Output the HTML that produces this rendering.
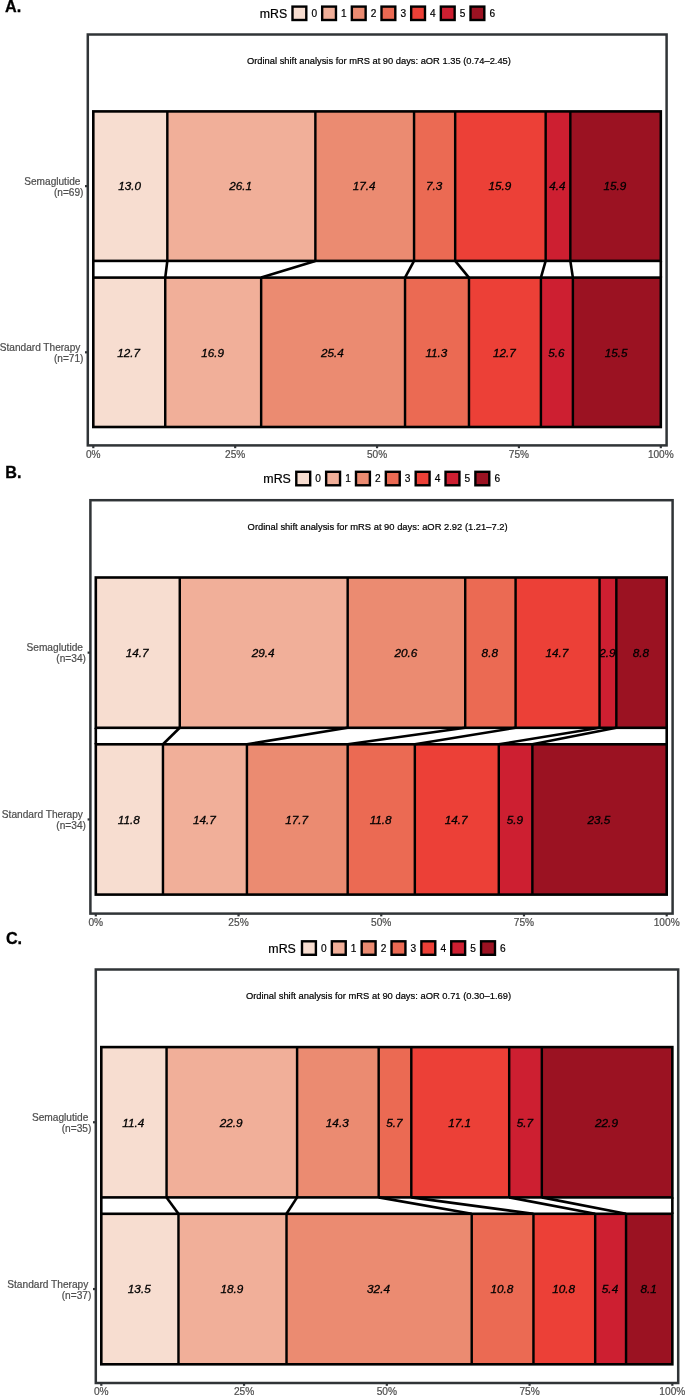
<!DOCTYPE html>
<html lang="en">
<head>
<meta charset="utf-8">
<title>mRS ordinal shift analysis</title>
<style>
html,body{margin:0;padding:0;background:#fff;}
body{width:685px;height:1395px;overflow:hidden;font-family:"Liberation Sans", sans-serif;}
svg{display:block;will-change:transform;}
svg text{font-family:"Liberation Sans", sans-serif;}
</style>
</head>
<body>
<svg width="685" height="1395" viewBox="0 0 685 1395">
<rect x="0" y="0" width="685" height="1395" fill="#ffffff"/>
<g>
<text x="5" y="11.9" font-size="16.2" font-weight="bold" fill="#000" stroke="#000" stroke-width="0.3">A.</text>
<text x="259.7" y="18" font-size="12.35" fill="#000" stroke="#000" stroke-width="0.2">mRS</text>
<rect x="292.5" y="6.6" width="13.8" height="13.4" fill="#F7DDD0" stroke="#000" stroke-width="2.4"/>
<text x="311.4" y="16.8" font-size="10.1" fill="#000" stroke="#000" stroke-width="0.2">0</text>
<rect x="322.17" y="6.6" width="13.8" height="13.4" fill="#F1AF99" stroke="#000" stroke-width="2.4"/>
<text x="341.07" y="16.8" font-size="10.1" fill="#000" stroke="#000" stroke-width="0.2">1</text>
<rect x="351.84" y="6.6" width="13.8" height="13.4" fill="#EB8B71" stroke="#000" stroke-width="2.4"/>
<text x="370.74" y="16.8" font-size="10.1" fill="#000" stroke="#000" stroke-width="0.2">2</text>
<rect x="381.51" y="6.6" width="13.8" height="13.4" fill="#EB6A53" stroke="#000" stroke-width="2.4"/>
<text x="400.41" y="16.8" font-size="10.1" fill="#000" stroke="#000" stroke-width="0.2">3</text>
<rect x="411.18" y="6.6" width="13.8" height="13.4" fill="#EC4037" stroke="#000" stroke-width="2.4"/>
<text x="430.08" y="16.8" font-size="10.1" fill="#000" stroke="#000" stroke-width="0.2">4</text>
<rect x="440.85" y="6.6" width="13.8" height="13.4" fill="#CD1F31" stroke="#000" stroke-width="2.4"/>
<text x="459.75" y="16.8" font-size="10.1" fill="#000" stroke="#000" stroke-width="0.2">5</text>
<rect x="470.52" y="6.6" width="13.8" height="13.4" fill="#9B1222" stroke="#000" stroke-width="2.4"/>
<text x="489.42" y="16.8" font-size="10.1" fill="#000" stroke="#000" stroke-width="0.2">6</text>
<text x="247" y="63.8" font-size="9.34" fill="#000" stroke="#000" stroke-width="0.2">Ordinal shift analysis for mRS at 90 days: aOR 1.35 (0.74–2.45)</text>
<rect x="93.3" y="111.4" width="74.02" height="149.5" fill="#F7DDD0"/>
<rect x="167.32" y="111.4" width="148.04" height="149.5" fill="#F1AF99"/>
<rect x="315.37" y="111.4" width="98.7" height="149.5" fill="#EB8B71"/>
<rect x="414.06" y="111.4" width="41.12" height="149.5" fill="#EB6A53"/>
<rect x="455.18" y="111.4" width="90.47" height="149.5" fill="#EC4037"/>
<rect x="545.66" y="111.4" width="24.67" height="149.5" fill="#CD1F31"/>
<rect x="570.33" y="111.4" width="90.47" height="149.5" fill="#9B1222"/>
<line x1="167.32" y1="111.4" x2="167.32" y2="260.9" stroke="#000" stroke-width="2.45"/>
<line x1="315.37" y1="111.4" x2="315.37" y2="260.9" stroke="#000" stroke-width="2.45"/>
<line x1="414.06" y1="111.4" x2="414.06" y2="260.9" stroke="#000" stroke-width="2.45"/>
<line x1="455.18" y1="111.4" x2="455.18" y2="260.9" stroke="#000" stroke-width="2.45"/>
<line x1="545.66" y1="111.4" x2="545.66" y2="260.9" stroke="#000" stroke-width="2.45"/>
<line x1="570.33" y1="111.4" x2="570.33" y2="260.9" stroke="#000" stroke-width="2.45"/>
<rect x="93.3" y="111.4" width="567.5" height="149.5" fill="none" stroke="#000" stroke-width="2.6"/>
<text x="129.71" y="190.45" font-size="11.7" font-style="italic" text-anchor="middle" fill="#000" stroke="#000" stroke-width="0.3">13.0</text>
<text x="240.74" y="190.45" font-size="11.7" font-style="italic" text-anchor="middle" fill="#000" stroke="#000" stroke-width="0.3">26.1</text>
<text x="364.11" y="190.45" font-size="11.7" font-style="italic" text-anchor="middle" fill="#000" stroke="#000" stroke-width="0.3">17.4</text>
<text x="434.02" y="190.45" font-size="11.7" font-style="italic" text-anchor="middle" fill="#000" stroke="#000" stroke-width="0.3">7.3</text>
<text x="499.82" y="190.45" font-size="11.7" font-style="italic" text-anchor="middle" fill="#000" stroke="#000" stroke-width="0.3">15.9</text>
<text x="557.39" y="190.45" font-size="11.7" font-style="italic" text-anchor="middle" fill="#000" stroke="#000" stroke-width="0.3">4.4</text>
<text x="614.96" y="190.45" font-size="11.7" font-style="italic" text-anchor="middle" fill="#000" stroke="#000" stroke-width="0.3">15.9</text>
<rect x="93.3" y="277.6" width="71.94" height="149.4" fill="#F7DDD0"/>
<rect x="165.24" y="277.6" width="95.92" height="149.4" fill="#F1AF99"/>
<rect x="261.15" y="277.6" width="143.87" height="149.4" fill="#EB8B71"/>
<rect x="405.03" y="277.6" width="63.94" height="149.4" fill="#EB6A53"/>
<rect x="468.97" y="277.6" width="71.94" height="149.4" fill="#EC4037"/>
<rect x="540.91" y="277.6" width="31.97" height="149.4" fill="#CD1F31"/>
<rect x="572.88" y="277.6" width="87.92" height="149.4" fill="#9B1222"/>
<line x1="165.24" y1="277.6" x2="165.24" y2="427" stroke="#000" stroke-width="2.45"/>
<line x1="261.15" y1="277.6" x2="261.15" y2="427" stroke="#000" stroke-width="2.45"/>
<line x1="405.03" y1="277.6" x2="405.03" y2="427" stroke="#000" stroke-width="2.45"/>
<line x1="468.97" y1="277.6" x2="468.97" y2="427" stroke="#000" stroke-width="2.45"/>
<line x1="540.91" y1="277.6" x2="540.91" y2="427" stroke="#000" stroke-width="2.45"/>
<line x1="572.88" y1="277.6" x2="572.88" y2="427" stroke="#000" stroke-width="2.45"/>
<rect x="93.3" y="277.6" width="567.5" height="149.4" fill="none" stroke="#000" stroke-width="2.6"/>
<text x="128.67" y="356.6" font-size="11.7" font-style="italic" text-anchor="middle" fill="#000" stroke="#000" stroke-width="0.3">12.7</text>
<text x="212.59" y="356.6" font-size="11.7" font-style="italic" text-anchor="middle" fill="#000" stroke="#000" stroke-width="0.3">16.9</text>
<text x="332.49" y="356.6" font-size="11.7" font-style="italic" text-anchor="middle" fill="#000" stroke="#000" stroke-width="0.3">25.4</text>
<text x="436.4" y="356.6" font-size="11.7" font-style="italic" text-anchor="middle" fill="#000" stroke="#000" stroke-width="0.3">11.3</text>
<text x="504.34" y="356.6" font-size="11.7" font-style="italic" text-anchor="middle" fill="#000" stroke="#000" stroke-width="0.3">12.7</text>
<text x="556.29" y="356.6" font-size="11.7" font-style="italic" text-anchor="middle" fill="#000" stroke="#000" stroke-width="0.3">5.6</text>
<text x="616.24" y="356.6" font-size="11.7" font-style="italic" text-anchor="middle" fill="#000" stroke="#000" stroke-width="0.3">15.5</text>
<line x1="93.3" y1="260.9" x2="93.3" y2="277.6" stroke="#000" stroke-width="2.6"/>
<line x1="167.32" y1="260.9" x2="165.24" y2="277.6" stroke="#000" stroke-width="2.6"/>
<line x1="315.37" y1="260.9" x2="261.15" y2="277.6" stroke="#000" stroke-width="2.6"/>
<line x1="414.06" y1="260.9" x2="405.03" y2="277.6" stroke="#000" stroke-width="2.6"/>
<line x1="455.18" y1="260.9" x2="468.97" y2="277.6" stroke="#000" stroke-width="2.6"/>
<line x1="545.66" y1="260.9" x2="540.91" y2="277.6" stroke="#000" stroke-width="2.6"/>
<line x1="570.33" y1="260.9" x2="572.88" y2="277.6" stroke="#000" stroke-width="2.6"/>
<line x1="660.8" y1="260.9" x2="660.8" y2="277.6" stroke="#000" stroke-width="2.6"/>
<rect x="87.8" y="34.5" width="578.8" height="410.9" fill="none" stroke="#303437" stroke-width="2.5"/>
<line x1="93.3" y1="445.4" x2="93.3" y2="448.2" stroke="#303437" stroke-width="2.2"/>
<text x="93.3" y="457.6" font-size="10.1" text-anchor="middle" fill="#4d4d4d" stroke="#4d4d4d" stroke-width="0.2">0%</text>
<line x1="235.18" y1="445.4" x2="235.18" y2="448.2" stroke="#303437" stroke-width="2.2"/>
<text x="235.18" y="457.6" font-size="10.1" text-anchor="middle" fill="#4d4d4d" stroke="#4d4d4d" stroke-width="0.2">25%</text>
<line x1="377.05" y1="445.4" x2="377.05" y2="448.2" stroke="#303437" stroke-width="2.2"/>
<text x="377.05" y="457.6" font-size="10.1" text-anchor="middle" fill="#4d4d4d" stroke="#4d4d4d" stroke-width="0.2">50%</text>
<line x1="518.92" y1="445.4" x2="518.92" y2="448.2" stroke="#303437" stroke-width="2.2"/>
<text x="518.92" y="457.6" font-size="10.1" text-anchor="middle" fill="#4d4d4d" stroke="#4d4d4d" stroke-width="0.2">75%</text>
<line x1="660.8" y1="445.4" x2="660.8" y2="448.2" stroke="#303437" stroke-width="2.2"/>
<text x="660.8" y="457.6" font-size="10.1" text-anchor="middle" fill="#4d4d4d" stroke="#4d4d4d" stroke-width="0.2">100%</text>
<line x1="85" y1="186.15" x2="87.8" y2="186.15" stroke="#303437" stroke-width="2.2"/>
<text x="80.4" y="184.75" font-size="10.1" text-anchor="end" fill="#4d4d4d" stroke="#4d4d4d" stroke-width="0.2">Semaglutide</text>
<text x="83.4" y="195.85" font-size="10.1" text-anchor="end" fill="#4d4d4d" stroke="#4d4d4d" stroke-width="0.2">(n=69)</text>
<line x1="85" y1="352.3" x2="87.8" y2="352.3" stroke="#303437" stroke-width="2.2"/>
<text x="80.4" y="350.9" font-size="10.1" text-anchor="end" fill="#4d4d4d" stroke="#4d4d4d" stroke-width="0.2">Standard Therapy</text>
<text x="83.4" y="362" font-size="10.1" text-anchor="end" fill="#4d4d4d" stroke="#4d4d4d" stroke-width="0.2">(n=71)</text>
</g>
<g>
<text x="5.2" y="477.9" font-size="16.2" font-weight="bold" fill="#000" stroke="#000" stroke-width="0.3">B.</text>
<text x="263.3" y="483.28" font-size="12.42" fill="#000" stroke="#000" stroke-width="0.2">mRS</text>
<rect x="296.29" y="471.8" width="13.9" height="13.49" fill="#F7DDD0" stroke="#000" stroke-width="2.4"/>
<text x="315.31" y="482.07" font-size="10.16" fill="#000" stroke="#000" stroke-width="0.2">0</text>
<rect x="326.14" y="471.8" width="13.9" height="13.49" fill="#F1AF99" stroke="#000" stroke-width="2.4"/>
<text x="345.16" y="482.07" font-size="10.16" fill="#000" stroke="#000" stroke-width="0.2">1</text>
<rect x="355.99" y="471.8" width="13.9" height="13.49" fill="#EB8B71" stroke="#000" stroke-width="2.4"/>
<text x="375.01" y="482.07" font-size="10.16" fill="#000" stroke="#000" stroke-width="0.2">2</text>
<rect x="385.83" y="471.8" width="13.9" height="13.49" fill="#EB6A53" stroke="#000" stroke-width="2.4"/>
<text x="404.85" y="482.07" font-size="10.16" fill="#000" stroke="#000" stroke-width="0.2">3</text>
<rect x="415.68" y="471.8" width="13.9" height="13.49" fill="#EC4037" stroke="#000" stroke-width="2.4"/>
<text x="434.7" y="482.07" font-size="10.16" fill="#000" stroke="#000" stroke-width="0.2">4</text>
<rect x="445.53" y="471.8" width="13.9" height="13.49" fill="#CD1F31" stroke="#000" stroke-width="2.4"/>
<text x="464.55" y="482.07" font-size="10.16" fill="#000" stroke="#000" stroke-width="0.2">5</text>
<rect x="475.38" y="471.8" width="13.9" height="13.49" fill="#9B1222" stroke="#000" stroke-width="2.4"/>
<text x="494.4" y="482.07" font-size="10.16" fill="#000" stroke="#000" stroke-width="0.2">6</text>
<text x="247.6" y="529.6" font-size="9.4" fill="#000" stroke="#000" stroke-width="0.2">Ordinal shift analysis for mRS at 90 days: aOR 2.92 (1.21–7.2)</text>
<rect x="95.8" y="577.5" width="83.96" height="150.3" fill="#F7DDD0"/>
<rect x="179.76" y="577.5" width="167.91" height="150.3" fill="#F1AF99"/>
<rect x="347.67" y="577.5" width="117.54" height="150.3" fill="#EB8B71"/>
<rect x="465.21" y="577.5" width="50.37" height="150.3" fill="#EB6A53"/>
<rect x="515.58" y="577.5" width="83.96" height="150.3" fill="#EC4037"/>
<rect x="599.54" y="577.5" width="16.79" height="150.3" fill="#CD1F31"/>
<rect x="616.33" y="577.5" width="50.37" height="150.3" fill="#9B1222"/>
<line x1="179.76" y1="577.5" x2="179.76" y2="727.8" stroke="#000" stroke-width="2.45"/>
<line x1="347.67" y1="577.5" x2="347.67" y2="727.8" stroke="#000" stroke-width="2.45"/>
<line x1="465.21" y1="577.5" x2="465.21" y2="727.8" stroke="#000" stroke-width="2.45"/>
<line x1="515.58" y1="577.5" x2="515.58" y2="727.8" stroke="#000" stroke-width="2.45"/>
<line x1="599.54" y1="577.5" x2="599.54" y2="727.8" stroke="#000" stroke-width="2.45"/>
<line x1="616.33" y1="577.5" x2="616.33" y2="727.8" stroke="#000" stroke-width="2.45"/>
<rect x="95.8" y="577.5" width="570.9" height="150.3" fill="none" stroke="#000" stroke-width="2.6"/>
<text x="137.18" y="656.98" font-size="11.77" font-style="italic" text-anchor="middle" fill="#000" stroke="#000" stroke-width="0.3">14.7</text>
<text x="263.11" y="656.98" font-size="11.77" font-style="italic" text-anchor="middle" fill="#000" stroke="#000" stroke-width="0.3">29.4</text>
<text x="405.84" y="656.98" font-size="11.77" font-style="italic" text-anchor="middle" fill="#000" stroke="#000" stroke-width="0.3">20.6</text>
<text x="489.79" y="656.98" font-size="11.77" font-style="italic" text-anchor="middle" fill="#000" stroke="#000" stroke-width="0.3">8.8</text>
<text x="556.96" y="656.98" font-size="11.77" font-style="italic" text-anchor="middle" fill="#000" stroke="#000" stroke-width="0.3">14.7</text>
<text x="607.33" y="656.98" font-size="11.77" font-style="italic" text-anchor="middle" fill="#000" stroke="#000" stroke-width="0.3">2.9</text>
<text x="640.91" y="656.98" font-size="11.77" font-style="italic" text-anchor="middle" fill="#000" stroke="#000" stroke-width="0.3">8.8</text>
<rect x="95.8" y="744.3" width="67.16" height="150.3" fill="#F7DDD0"/>
<rect x="162.96" y="744.3" width="83.96" height="150.3" fill="#F1AF99"/>
<rect x="246.92" y="744.3" width="100.75" height="150.3" fill="#EB8B71"/>
<rect x="347.67" y="744.3" width="67.16" height="150.3" fill="#EB6A53"/>
<rect x="414.83" y="744.3" width="83.96" height="150.3" fill="#EC4037"/>
<rect x="498.79" y="744.3" width="33.58" height="150.3" fill="#CD1F31"/>
<rect x="532.37" y="744.3" width="134.33" height="150.3" fill="#9B1222"/>
<line x1="162.96" y1="744.3" x2="162.96" y2="894.6" stroke="#000" stroke-width="2.45"/>
<line x1="246.92" y1="744.3" x2="246.92" y2="894.6" stroke="#000" stroke-width="2.45"/>
<line x1="347.67" y1="744.3" x2="347.67" y2="894.6" stroke="#000" stroke-width="2.45"/>
<line x1="414.83" y1="744.3" x2="414.83" y2="894.6" stroke="#000" stroke-width="2.45"/>
<line x1="498.79" y1="744.3" x2="498.79" y2="894.6" stroke="#000" stroke-width="2.45"/>
<line x1="532.37" y1="744.3" x2="532.37" y2="894.6" stroke="#000" stroke-width="2.45"/>
<rect x="95.8" y="744.3" width="570.9" height="150.3" fill="none" stroke="#000" stroke-width="2.6"/>
<text x="128.78" y="823.78" font-size="11.77" font-style="italic" text-anchor="middle" fill="#000" stroke="#000" stroke-width="0.3">11.8</text>
<text x="204.34" y="823.78" font-size="11.77" font-style="italic" text-anchor="middle" fill="#000" stroke="#000" stroke-width="0.3">14.7</text>
<text x="296.69" y="823.78" font-size="11.77" font-style="italic" text-anchor="middle" fill="#000" stroke="#000" stroke-width="0.3">17.7</text>
<text x="380.65" y="823.78" font-size="11.77" font-style="italic" text-anchor="middle" fill="#000" stroke="#000" stroke-width="0.3">11.8</text>
<text x="456.21" y="823.78" font-size="11.77" font-style="italic" text-anchor="middle" fill="#000" stroke="#000" stroke-width="0.3">14.7</text>
<text x="514.98" y="823.78" font-size="11.77" font-style="italic" text-anchor="middle" fill="#000" stroke="#000" stroke-width="0.3">5.9</text>
<text x="598.94" y="823.78" font-size="11.77" font-style="italic" text-anchor="middle" fill="#000" stroke="#000" stroke-width="0.3">23.5</text>
<line x1="95.8" y1="727.8" x2="95.8" y2="744.3" stroke="#000" stroke-width="2.6"/>
<line x1="179.76" y1="727.8" x2="162.96" y2="744.3" stroke="#000" stroke-width="2.6"/>
<line x1="347.67" y1="727.8" x2="246.92" y2="744.3" stroke="#000" stroke-width="2.6"/>
<line x1="465.21" y1="727.8" x2="347.67" y2="744.3" stroke="#000" stroke-width="2.6"/>
<line x1="515.58" y1="727.8" x2="414.83" y2="744.3" stroke="#000" stroke-width="2.6"/>
<line x1="599.54" y1="727.8" x2="498.79" y2="744.3" stroke="#000" stroke-width="2.6"/>
<line x1="616.33" y1="727.8" x2="532.37" y2="744.3" stroke="#000" stroke-width="2.6"/>
<line x1="666.7" y1="727.8" x2="666.7" y2="744.3" stroke="#000" stroke-width="2.6"/>
<rect x="90.4" y="500.2" width="582.2" height="413.4" fill="none" stroke="#303437" stroke-width="2.5"/>
<line x1="95.8" y1="913.6" x2="95.8" y2="916.4" stroke="#303437" stroke-width="2.2"/>
<text x="95.8" y="925.87" font-size="10.16" text-anchor="middle" fill="#4d4d4d" stroke="#4d4d4d" stroke-width="0.2">0%</text>
<line x1="238.53" y1="913.6" x2="238.53" y2="916.4" stroke="#303437" stroke-width="2.2"/>
<text x="238.53" y="925.87" font-size="10.16" text-anchor="middle" fill="#4d4d4d" stroke="#4d4d4d" stroke-width="0.2">25%</text>
<line x1="381.25" y1="913.6" x2="381.25" y2="916.4" stroke="#303437" stroke-width="2.2"/>
<text x="381.25" y="925.87" font-size="10.16" text-anchor="middle" fill="#4d4d4d" stroke="#4d4d4d" stroke-width="0.2">50%</text>
<line x1="523.98" y1="913.6" x2="523.98" y2="916.4" stroke="#303437" stroke-width="2.2"/>
<text x="523.98" y="925.87" font-size="10.16" text-anchor="middle" fill="#4d4d4d" stroke="#4d4d4d" stroke-width="0.2">75%</text>
<line x1="666.7" y1="913.6" x2="666.7" y2="916.4" stroke="#303437" stroke-width="2.2"/>
<text x="666.7" y="925.87" font-size="10.16" text-anchor="middle" fill="#4d4d4d" stroke="#4d4d4d" stroke-width="0.2">100%</text>
<line x1="87.6" y1="652.65" x2="90.4" y2="652.65" stroke="#303437" stroke-width="2.2"/>
<text x="82.96" y="651.24" font-size="10.16" text-anchor="end" fill="#4d4d4d" stroke="#4d4d4d" stroke-width="0.2">Semaglutide</text>
<text x="85.97" y="662.41" font-size="10.16" text-anchor="end" fill="#4d4d4d" stroke="#4d4d4d" stroke-width="0.2">(n=34)</text>
<line x1="87.6" y1="819.45" x2="90.4" y2="819.45" stroke="#303437" stroke-width="2.2"/>
<text x="82.96" y="818.04" font-size="10.16" text-anchor="end" fill="#4d4d4d" stroke="#4d4d4d" stroke-width="0.2">Standard Therapy</text>
<text x="85.97" y="829.21" font-size="10.16" text-anchor="end" fill="#4d4d4d" stroke="#4d4d4d" stroke-width="0.2">(n=34)</text>
</g>
<g>
<text x="5.9" y="943.7" font-size="16.2" font-weight="bold" fill="#000" stroke="#000" stroke-width="0.3">C.</text>
<text x="268.3" y="952.78" font-size="12.42" fill="#000" stroke="#000" stroke-width="0.2">mRS</text>
<rect x="301.99" y="941.3" width="13.9" height="13.49" fill="#F7DDD0" stroke="#000" stroke-width="2.4"/>
<text x="321.01" y="951.57" font-size="10.16" fill="#000" stroke="#000" stroke-width="0.2">0</text>
<rect x="331.84" y="941.3" width="13.9" height="13.49" fill="#F1AF99" stroke="#000" stroke-width="2.4"/>
<text x="350.86" y="951.57" font-size="10.16" fill="#000" stroke="#000" stroke-width="0.2">1</text>
<rect x="361.69" y="941.3" width="13.9" height="13.49" fill="#EB8B71" stroke="#000" stroke-width="2.4"/>
<text x="380.71" y="951.57" font-size="10.16" fill="#000" stroke="#000" stroke-width="0.2">2</text>
<rect x="391.53" y="941.3" width="13.9" height="13.49" fill="#EB6A53" stroke="#000" stroke-width="2.4"/>
<text x="410.55" y="951.57" font-size="10.16" fill="#000" stroke="#000" stroke-width="0.2">3</text>
<rect x="421.38" y="941.3" width="13.9" height="13.49" fill="#EC4037" stroke="#000" stroke-width="2.4"/>
<text x="440.4" y="951.57" font-size="10.16" fill="#000" stroke="#000" stroke-width="0.2">4</text>
<rect x="451.23" y="941.3" width="13.9" height="13.49" fill="#CD1F31" stroke="#000" stroke-width="2.4"/>
<text x="470.25" y="951.57" font-size="10.16" fill="#000" stroke="#000" stroke-width="0.2">5</text>
<rect x="481.08" y="941.3" width="13.9" height="13.49" fill="#9B1222" stroke="#000" stroke-width="2.4"/>
<text x="500.1" y="951.57" font-size="10.16" fill="#000" stroke="#000" stroke-width="0.2">6</text>
<text x="245.9" y="999" font-size="9.4" fill="#000" stroke="#000" stroke-width="0.2">Ordinal shift analysis for mRS at 90 days: aOR 0.71 (0.30–1.69)</text>
<rect x="101.3" y="1047.1" width="65.26" height="150.3" fill="#F7DDD0"/>
<rect x="166.56" y="1047.1" width="130.53" height="150.3" fill="#F1AF99"/>
<rect x="297.09" y="1047.1" width="81.58" height="150.3" fill="#EB8B71"/>
<rect x="378.67" y="1047.1" width="32.63" height="150.3" fill="#EB6A53"/>
<rect x="411.3" y="1047.1" width="97.89" height="150.3" fill="#EC4037"/>
<rect x="509.19" y="1047.1" width="32.63" height="150.3" fill="#CD1F31"/>
<rect x="541.82" y="1047.1" width="130.53" height="150.3" fill="#9B1222"/>
<line x1="166.56" y1="1047.1" x2="166.56" y2="1197.4" stroke="#000" stroke-width="2.45"/>
<line x1="297.09" y1="1047.1" x2="297.09" y2="1197.4" stroke="#000" stroke-width="2.45"/>
<line x1="378.67" y1="1047.1" x2="378.67" y2="1197.4" stroke="#000" stroke-width="2.45"/>
<line x1="411.3" y1="1047.1" x2="411.3" y2="1197.4" stroke="#000" stroke-width="2.45"/>
<line x1="509.19" y1="1047.1" x2="509.19" y2="1197.4" stroke="#000" stroke-width="2.45"/>
<line x1="541.82" y1="1047.1" x2="541.82" y2="1197.4" stroke="#000" stroke-width="2.45"/>
<rect x="101.3" y="1047.1" width="571.05" height="150.3" fill="none" stroke="#000" stroke-width="2.6"/>
<text x="133.33" y="1126.58" font-size="11.77" font-style="italic" text-anchor="middle" fill="#000" stroke="#000" stroke-width="0.3">11.4</text>
<text x="231.23" y="1126.58" font-size="11.77" font-style="italic" text-anchor="middle" fill="#000" stroke="#000" stroke-width="0.3">22.9</text>
<text x="337.28" y="1126.58" font-size="11.77" font-style="italic" text-anchor="middle" fill="#000" stroke="#000" stroke-width="0.3">14.3</text>
<text x="394.38" y="1126.58" font-size="11.77" font-style="italic" text-anchor="middle" fill="#000" stroke="#000" stroke-width="0.3">5.7</text>
<text x="459.65" y="1126.58" font-size="11.77" font-style="italic" text-anchor="middle" fill="#000" stroke="#000" stroke-width="0.3">17.1</text>
<text x="524.91" y="1126.58" font-size="11.77" font-style="italic" text-anchor="middle" fill="#000" stroke="#000" stroke-width="0.3">5.7</text>
<text x="606.49" y="1126.58" font-size="11.77" font-style="italic" text-anchor="middle" fill="#000" stroke="#000" stroke-width="0.3">22.9</text>
<rect x="101.3" y="1213.8" width="77.17" height="150.5" fill="#F7DDD0"/>
<rect x="178.47" y="1213.8" width="108.04" height="150.5" fill="#F1AF99"/>
<rect x="286.51" y="1213.8" width="185.21" height="150.5" fill="#EB8B71"/>
<rect x="471.71" y="1213.8" width="61.74" height="150.5" fill="#EB6A53"/>
<rect x="533.45" y="1213.8" width="61.74" height="150.5" fill="#EC4037"/>
<rect x="595.18" y="1213.8" width="30.87" height="150.5" fill="#CD1F31"/>
<rect x="626.05" y="1213.8" width="46.3" height="150.5" fill="#9B1222"/>
<line x1="178.47" y1="1213.8" x2="178.47" y2="1364.3" stroke="#000" stroke-width="2.45"/>
<line x1="286.51" y1="1213.8" x2="286.51" y2="1364.3" stroke="#000" stroke-width="2.45"/>
<line x1="471.71" y1="1213.8" x2="471.71" y2="1364.3" stroke="#000" stroke-width="2.45"/>
<line x1="533.45" y1="1213.8" x2="533.45" y2="1364.3" stroke="#000" stroke-width="2.45"/>
<line x1="595.18" y1="1213.8" x2="595.18" y2="1364.3" stroke="#000" stroke-width="2.45"/>
<line x1="626.05" y1="1213.8" x2="626.05" y2="1364.3" stroke="#000" stroke-width="2.45"/>
<rect x="101.3" y="1213.8" width="571.05" height="150.5" fill="none" stroke="#000" stroke-width="2.6"/>
<text x="139.28" y="1293.38" font-size="11.77" font-style="italic" text-anchor="middle" fill="#000" stroke="#000" stroke-width="0.3">13.5</text>
<text x="231.89" y="1293.38" font-size="11.77" font-style="italic" text-anchor="middle" fill="#000" stroke="#000" stroke-width="0.3">18.9</text>
<text x="378.51" y="1293.38" font-size="11.77" font-style="italic" text-anchor="middle" fill="#000" stroke="#000" stroke-width="0.3">32.4</text>
<text x="501.98" y="1293.38" font-size="11.77" font-style="italic" text-anchor="middle" fill="#000" stroke="#000" stroke-width="0.3">10.8</text>
<text x="563.71" y="1293.38" font-size="11.77" font-style="italic" text-anchor="middle" fill="#000" stroke="#000" stroke-width="0.3">10.8</text>
<text x="610.01" y="1293.38" font-size="11.77" font-style="italic" text-anchor="middle" fill="#000" stroke="#000" stroke-width="0.3">5.4</text>
<text x="648.6" y="1293.38" font-size="11.77" font-style="italic" text-anchor="middle" fill="#000" stroke="#000" stroke-width="0.3">8.1</text>
<line x1="101.3" y1="1197.4" x2="101.3" y2="1213.8" stroke="#000" stroke-width="2.6"/>
<line x1="166.56" y1="1197.4" x2="178.47" y2="1213.8" stroke="#000" stroke-width="2.6"/>
<line x1="297.09" y1="1197.4" x2="286.51" y2="1213.8" stroke="#000" stroke-width="2.6"/>
<line x1="378.67" y1="1197.4" x2="471.71" y2="1213.8" stroke="#000" stroke-width="2.6"/>
<line x1="411.3" y1="1197.4" x2="533.45" y2="1213.8" stroke="#000" stroke-width="2.6"/>
<line x1="509.19" y1="1197.4" x2="595.18" y2="1213.8" stroke="#000" stroke-width="2.6"/>
<line x1="541.82" y1="1197.4" x2="626.05" y2="1213.8" stroke="#000" stroke-width="2.6"/>
<line x1="672.35" y1="1197.4" x2="672.35" y2="1213.8" stroke="#000" stroke-width="2.6"/>
<rect x="95.8" y="969.5" width="582.4" height="413.5" fill="none" stroke="#303437" stroke-width="2.5"/>
<line x1="101.3" y1="1383" x2="101.3" y2="1385.8" stroke="#303437" stroke-width="2.2"/>
<text x="101.3" y="1395.27" font-size="10.16" text-anchor="middle" fill="#4d4d4d" stroke="#4d4d4d" stroke-width="0.2">0%</text>
<line x1="244.06" y1="1383" x2="244.06" y2="1385.8" stroke="#303437" stroke-width="2.2"/>
<text x="244.06" y="1395.27" font-size="10.16" text-anchor="middle" fill="#4d4d4d" stroke="#4d4d4d" stroke-width="0.2">25%</text>
<line x1="386.83" y1="1383" x2="386.83" y2="1385.8" stroke="#303437" stroke-width="2.2"/>
<text x="386.83" y="1395.27" font-size="10.16" text-anchor="middle" fill="#4d4d4d" stroke="#4d4d4d" stroke-width="0.2">50%</text>
<line x1="529.59" y1="1383" x2="529.59" y2="1385.8" stroke="#303437" stroke-width="2.2"/>
<text x="529.59" y="1395.27" font-size="10.16" text-anchor="middle" fill="#4d4d4d" stroke="#4d4d4d" stroke-width="0.2">75%</text>
<line x1="672.35" y1="1383" x2="672.35" y2="1385.8" stroke="#303437" stroke-width="2.2"/>
<text x="672.35" y="1395.27" font-size="10.16" text-anchor="middle" fill="#4d4d4d" stroke="#4d4d4d" stroke-width="0.2">100%</text>
<line x1="93" y1="1122.25" x2="95.8" y2="1122.25" stroke="#303437" stroke-width="2.2"/>
<text x="88.36" y="1120.84" font-size="10.16" text-anchor="end" fill="#4d4d4d" stroke="#4d4d4d" stroke-width="0.2">Semaglutide</text>
<text x="91.37" y="1132.01" font-size="10.16" text-anchor="end" fill="#4d4d4d" stroke="#4d4d4d" stroke-width="0.2">(n=35)</text>
<line x1="93" y1="1289.05" x2="95.8" y2="1289.05" stroke="#303437" stroke-width="2.2"/>
<text x="88.36" y="1287.64" font-size="10.16" text-anchor="end" fill="#4d4d4d" stroke="#4d4d4d" stroke-width="0.2">Standard Therapy</text>
<text x="91.37" y="1298.81" font-size="10.16" text-anchor="end" fill="#4d4d4d" stroke="#4d4d4d" stroke-width="0.2">(n=37)</text>
</g>
</svg>
</body>
</html>
